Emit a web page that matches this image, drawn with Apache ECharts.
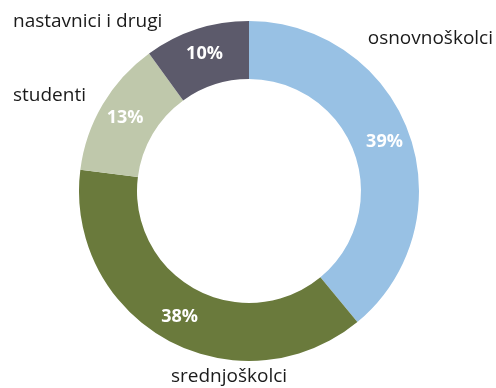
<!DOCTYPE html>
<html><head><meta charset="utf-8">
<script src="https://cdn.jsdelivr.net/npm/echarts@6/dist/echarts.min.js"></script>
<style>html,body{margin:0;padding:0;background:#fff}#c{width:496px;height:388px}</style>
</head><body><div id="c"></div>
<script>
const categories = ['osnovnoškolci', 'srednjoškolci', 'studenti', 'nastavnici i drugi'];
const values = [39, 38, 13, 10];
const colors = ['#98c1e4', '#6a7a3c', '#bfc8ab', '#5c5a6b'];
const namePos = [
  {x: 493, y: 39, align: 'right'},
  {x: 229, y: 377, align: 'center'},
  {x: 13, y: 96, align: 'left'},
  {x: 13, y: 22, align: 'left'}
];
const data = categories.map((n, i) => ({name: n, value: values[i], itemStyle: {color: colors[i]}}));
const chart = echarts.init(document.getElementById('c'));
chart.setOption({
  animation: false,
  series: [{
    type: 'pie', center: [249, 191], radius: [112, 170], startAngle: 90, clockwise: true,
    data: data, labelLine: {show: false},
    label: {position: 'inside', formatter: '{c}%', color: '#fff', fontFamily: 'Open Sans', fontWeight: 'bold', fontSize: 18}
  }, {
    type: 'pie', center: [249, 191], radius: [112, 170], startAngle: 90, clockwise: true,
    data: categories.map((n, i) => ({name: n, value: values[i]})), silent: true,
    itemStyle: {color: 'rgba(0,0,0,0)'}, labelLine: {show: false},
    label: {show: true, position: 'outside', formatter: '{b}', overflow: 'none', color: '#1a1a1a', fontFamily: 'Open Sans', fontSize: 19},
    labelLayout: p => ({x: namePos[p.dataIndex].x, y: namePos[p.dataIndex].y, align: namePos[p.dataIndex].align, verticalAlign: 'middle'})
  }]
});
</script></body></html>
